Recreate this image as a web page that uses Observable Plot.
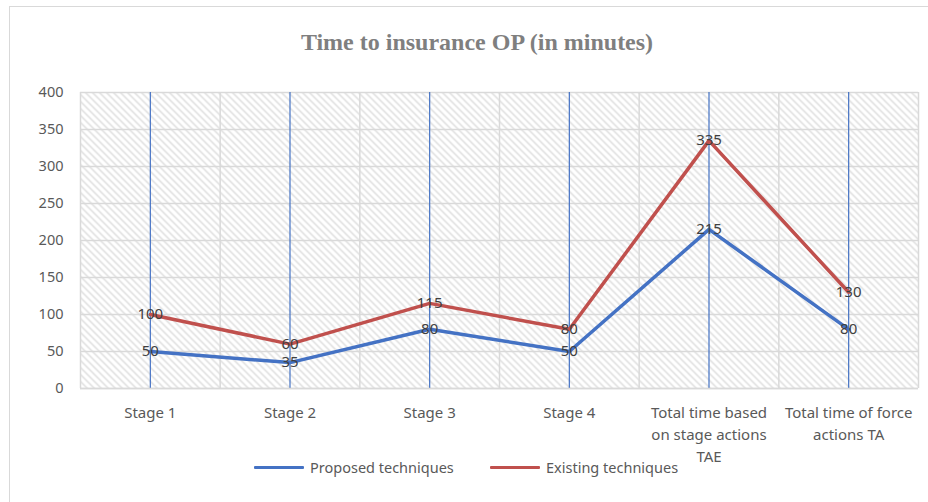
<!DOCTYPE html>
<html>
<head>
<meta charset="utf-8">
<script src="https://cdn.jsdelivr.net/npm/d3@7"></script>
<script src="https://cdn.jsdelivr.net/npm/@observablehq/plot@0.6"></script>
<style>
  html, body { margin: 0; padding: 0; background: #fff; }
  #wrap { position: relative; width: 928px; height: 502px; overflow: hidden; font-family: "Noto Sans", sans-serif; }
  #border { position: absolute; left: 9px; top: 6px; width: 940px; height: 520px; border: 1px solid #d9d9d9; box-sizing: border-box; }
  #title { position: absolute; left: 0; top: 26px; width: 954px; text-align: center; font-family: "Liberation Serif", "DejaVu Serif", serif; font-weight: bold; font-size: 24px; line-height: 32px; color: #7f7f7f; }
  #chart { position: absolute; left: 0; top: 0; }
  #legend { position: absolute; top: 456px; left: 0; width: 928px; height: 22px; font-size: 14.5px; color: #595959; }
  .item { position: absolute; display: flex; align-items: center; height: 22px; }
  .sw { width: 50px; height: 3px; margin-right: 6px; border-radius: 1px; }
</style>
</head>
<body>
<div id="wrap">
  <div id="border"></div>
  <div id="title">Time to insurance OP (in minutes)</div>
  <div id="chart"></div>
  <div id="legend"></div>
</div>
<script>
const categories = ["Stage 1", "Stage 2", "Stage 3", "Stage 4", "Total time based\non stage actions\nTAE", "Total time of force\nactions TA"];
const proposed = [50, 35, 80, 50, 215, 80];
const existing = [100, 60, 115, 80, 335, 130];
const seriesNames = ["Proposed techniques", "Existing techniques"];
const seriesColors = ["#4472C4", "#C0504D"];
const yTicks = [0, 50, 100, 150, 200, 250, 300, 350, 400];

const idx = categories.map((_, i) => i);
const rows = [];
[proposed, existing].forEach((vals, s) => vals.forEach((v, i) => rows.push({i, v, s: seriesNames[s]})));
const bounds = d3.range(-0.5, categories.length, 1);

const plot = Plot.plot({
  width: 928,
  height: 502,
  marginLeft: 80,
  marginRight: 10,
  marginTop: 92,
  marginBottom: 114,
  style: {background: "transparent", fontFamily: "'Noto Sans', sans-serif"},
  x: {type: "linear", domain: [-0.5, categories.length - 0.5]},
  y: {domain: [0, 400]},
  color: {domain: seriesNames, range: seriesColors},
  marks: [
    Plot.frame({fill: "url(#hatch)", stroke: null}),
    Plot.gridY(yTicks, {stroke: "#d9d9d9", strokeOpacity: 1, strokeWidth: 1.5}),
    Plot.gridX(bounds, {stroke: "#d9d9d9", strokeOpacity: 1, strokeWidth: 1.5}),
    Plot.ruleX(idx, {stroke: "#4472C4", strokeWidth: 1.2}),
    Plot.ruleY([0], {stroke: "#d9d9d9", strokeWidth: 1.5}),
    Plot.axisY(yTicks, {tickSize: 0, tickPadding: 17, fontSize: 14.5, fill: "#595959", label: null}),
    Plot.axisX(idx, {tickSize: 0, tickPadding: 14, fontSize: 15, fill: "#595959", lineHeight: 1.47, tickFormat: i => categories[i], label: null, textAnchor: "middle"}),
    Plot.line(rows, {x: "i", y: "v", z: "s", stroke: "s", strokeWidth: 3.5, strokeLinejoin: "round", strokeLinecap: "round"}),
    Plot.text(rows, {x: "i", y: "v", text: d => String(d.v), fontSize: 15, fill: "#404040"})
  ]
});

const svg = d3.select(plot);
const defs = svg.insert("defs", ":first-child");
const pat = defs.append("pattern").attr("id", "hatch").attr("patternUnits", "userSpaceOnUse")
  .attr("width", 7).attr("height", 7);
pat.append("rect").attr("width", 7).attr("height", 7).attr("fill", "#ffffff");
pat.append("path").attr("d", "M-1,-1 L8,8 M-1,6 L1,8 M6,-1 L8,1").attr("stroke", "#dcdcdc").attr("stroke-width", 1.4);
document.getElementById("chart").appendChild(plot);

const legend = document.getElementById("legend");
const lx = [254, 490];
seriesNames.forEach((name, k) => {
  const it = document.createElement("div");
  it.className = "item";
  it.style.left = lx[k] + "px";
  it.style.top = "0px";
  const sw = document.createElement("div");
  sw.className = "sw";
  sw.style.background = seriesColors[k];
  const t = document.createElement("span");
  t.textContent = name;
  it.appendChild(sw); it.appendChild(t);
  legend.appendChild(it);
});
</script>
</body>
</html>
